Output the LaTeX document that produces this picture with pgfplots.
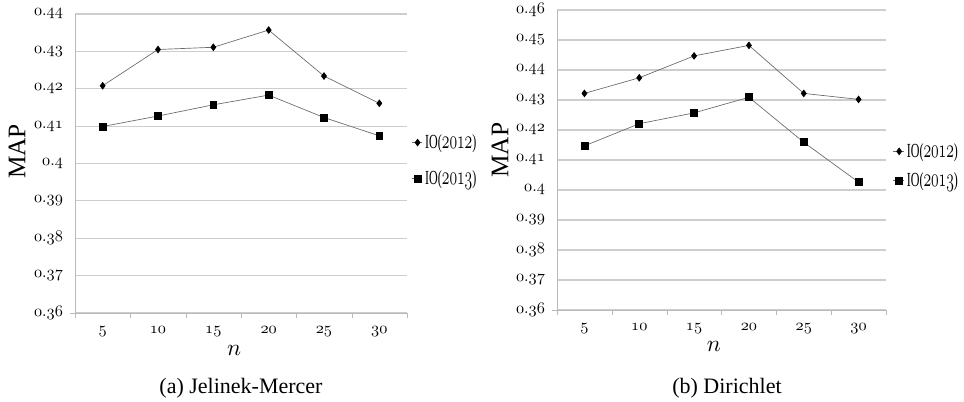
\documentclass[border=0pt]{standalone}
\usepackage{fontspec}
\setmainfont{Liberation Serif}
\usepackage{graphicx}
\usepackage{pgfplots}
\pgfplotsset{compat=1.18}

\definecolor{gridgray}{RGB}{205,205,205}
\definecolor{axgray}{RGB}{185,185,185}
\definecolor{linegray}{RGB}{105,105,105}

\newcommand\onum[1]{$\mathnormal{#1}$}
\newcommand\tnum[1]{\scalebox{1.22}{$\mathnormal{#1}$}}
\newcommand\legtext[1]{\scalebox{0.6}[1]{IO(\scalebox{1.35}{\onum{#1}})}}

\pgfplotsset{
  mystyle/.style={
    scale only axis,
    axis x line*=bottom,
    axis y line*=left,
    axis line style={draw=axgray,-},
    xmin=0.5, xmax=6.5,
    xtick={1,2,3,4,5,6},
    xticklabels={\tnum{5},\tnum{10},\tnum{15},\tnum{20},\tnum{25},\tnum{30}},
    major x tick style={draw=none},
    minor xtick={0.5,1.5,2.5,3.5,4.5,5.5,6.5},
    minor x tick style={draw=axgray},
    tick align=outside,
    major tick length=3.5pt,
    minor tick length=3.5pt,
    major y tick style={draw=none},
    extra y ticks={0.36},
    extra y tick labels={},
    extra y tick style={major y tick style={draw=axgray}, grid=none},
    ymajorgrids,
    grid style={draw=gridgray, line width=0.8pt},
    yticklabel style={xshift=-2pt},
    xticklabel style={yshift=-3pt},
    legend style={draw=none, fill=none, font=\fontsize{15}{15}\selectfont,
      inner sep=0pt, cells={anchor=west}},
    legend cell align=left,
    legend image code/.code={%
      \draw[##1,mark=none] (0pt,0pt) -- (8pt,0pt);
      \draw[##1,only marks] plot coordinates {(4.5pt,0pt)};
    },
    every axis plot/.append style={draw=linegray, line width=0.5pt},
  },
  s2012/.style={mark=diamond*, mark size=2.5pt, mark options={solid, fill=black, draw=black}},
  s2013/.style={mark=square*, mark size=2.6pt, mark options={solid, fill=black, draw=black}},
}

\begin{document}
\begin{tikzpicture}
\useasboundingbox (0pt,0pt) rectangle (723pt,301.5pt);

% (a) Jelinek-Mercer
\begin{axis}[mystyle,
  at={(56.25pt,66.75pt)}, anchor=south west,
  width=249pt, height=224.25pt,
  ymin=0.36, ymax=0.44,
  ytick={0.36,0.37,0.38,0.39,0.40,0.41,0.42,0.43,0.44},
  yticklabels={\tnum{0.36},\tnum{0.37},\tnum{0.38},\tnum{0.39},\tnum{0.4},\tnum{0.41},\tnum{0.42},\tnum{0.43},\tnum{0.44}},
  ylabel={\fontsize{19}{19}\selectfont MAP},
  ylabel style={at={(axis description cs:-0.175,0.54)}, anchor=center},
  xlabel={\scalebox{1.75}{$n$}},
  xlabel style={at={(axis description cs:0.479,-0.127)}, anchor=center},
  legend style={at={(axis description cs:1.012,0.51)}, anchor=west},
  legend style={row sep=11pt},
]
\addplot[s2012] coordinates {(1,0.4208) (2,0.4305) (3,0.4311) (4,0.4357) (5,0.4234) (6,0.4161)};
\addlegendentry{\legtext{2012}}
\addplot[s2013] coordinates {(1,0.4099) (2,0.4127) (3,0.4157) (4,0.4183) (5,0.4123) (6,0.4074)};
\addlegendentry{\legtext{2013}}
\end{axis}

% (b) Dirichlet
\begin{axis}[mystyle,
  at={(417.75pt,69pt)}, anchor=south west,
  width=246.75pt, height=225pt,
  ymin=0.36, ymax=0.46,
  ytick={0.36,0.37,0.38,0.39,0.40,0.41,0.42,0.43,0.44,0.45,0.46},
  yticklabels={\tnum{0.36},\tnum{0.37},\tnum{0.38},\tnum{0.39},\tnum{0.4},\tnum{0.41},\tnum{0.42},\tnum{0.43},\tnum{0.44},\tnum{0.45},\tnum{0.46}},
  ylabel={\fontsize{19}{19}\selectfont MAP},
  ylabel style={at={(axis description cs:-0.173,0.533)}, anchor=center},
  xlabel={\scalebox{1.75}{$n$}},
  xlabel style={at={(axis description cs:0.477,-0.123)}, anchor=center},
  legend style={at={(axis description cs:1.02,0.48)}, anchor=west},
  legend style={row sep=6pt},
]
\addplot[s2012] coordinates {(1,0.4322) (2,0.4374) (3,0.4447) (4,0.4482) (5,0.4322) (6,0.4302)};
\addlegendentry{\legtext{2012}}
\addplot[s2013] coordinates {(1,0.4147) (2,0.4221) (3,0.4257) (4,0.4309) (5,0.4159) (6,0.4026)};
\addlegendentry{\legtext{2013}}
\end{axis}

\node[font=\fontsize{16.5}{16.5}\selectfont] at (180.75pt,10.5pt) {(a) Jelinek-Mercer};
\node[font=\fontsize{16.5}{16.5}\selectfont] at (545.25pt,10.5pt) {(b) Dirichlet};
\end{tikzpicture}
\end{document}
